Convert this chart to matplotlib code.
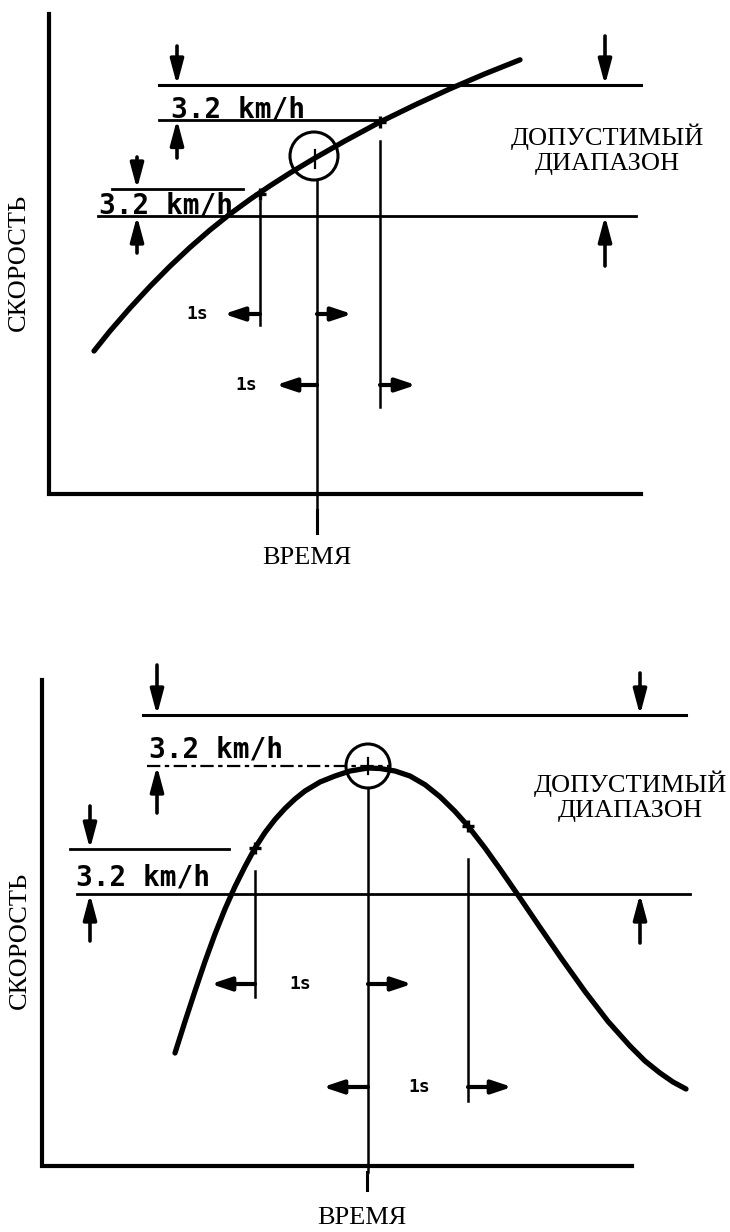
import matplotlib
matplotlib.use("Agg")
import matplotlib.pyplot as plt
from matplotlib.patches import Circle

# ---------------- data (pixel-like diagram units) ----------------
# Top panel: rising speed curve
top_curve_x = [94, 110, 130, 150, 170, 190, 210, 230, 250, 270, 290, 315, 345, 380, 415, 450, 485, 520]
top_curve_y = [351, 331, 308, 286.4, 266.2, 247.4, 230, 214, 199.4, 185.8, 173, 158, 140.9, 122,
               104.9, 88.8, 73.8, 59.8]
# Bottom panel: speed peak curve
bot_curve_x = [175, 185, 195, 205, 215, 225, 235, 245, 255, 265, 275, 285, 295, 305, 320, 335, 350,
               368, 380, 395, 410, 425, 440, 455, 468, 485, 500, 519, 540, 562, 585, 608, 630, 645,
               660, 673, 686]
bot_curve_y = [1053, 1021.5, 991, 961.5, 934, 909, 886.5, 866.5, 848, 832.5, 819.5, 808.5, 799, 791,
               782, 776, 771, 768, 768.5, 771, 776, 784.7, 796.7, 811.4, 826, 848, 869, 896.5,
               927.4, 959.3, 991.5, 1021.4, 1046, 1061, 1073, 1082, 1089]

speed_label = "3.2 km/h"
one_sec = "1s"
ylabel = "СКОРОСТЬ"
xlabel = "ВРЕМЯ"
range_label = "ДОПУСТИМЫЙ\nДИАПАЗОН"

# ---------------- figure ----------------
fig = plt.figure(figsize=(7.30, 12.32), dpi=100)
ax = fig.add_axes([0, 0, 1, 1])
ax.set_xlim(0, 730)
ax.set_ylim(1232, 0)
ax.axis("off")

K = "black"
serif = ["Liberation Serif", "DejaVu Serif"]
mono = ["DejaVu Sans Mono"]


def varrow(x, y_from, y_to):
    ax.annotate("", xy=(x, y_to), xytext=(x, y_from),
                arrowprops=dict(arrowstyle="-|>,head_length=0.75,head_width=0.2",
                                lw=2.6, color=K, shrinkA=0, shrinkB=0,
                                mutation_scale=20))


def harrow(y, x_from, x_to):
    ax.annotate("", xy=(x_to, y), xytext=(x_from, y),
                arrowprops=dict(arrowstyle="-|>,head_length=0.6,head_width=0.2",
                                lw=3.0, color=K, shrinkA=0, shrinkB=0,
                                mutation_scale=20))


# ================= TOP PANEL =================
ax.plot([49, 49, 641], [14, 494, 494], color=K, lw=3.0, solid_joinstyle="miter")
ax.plot([317, 317], [510, 533], color=K, lw=2.2)
ax.text(307, 558, xlabel, fontsize=19, family=serif, ha="center", va="center")
ax.text(19, 262, ylabel, fontsize=19, family=serif, ha="center", va="center", rotation=90)

ax.plot([159, 641], [85, 85], color=K, lw=2.2)
ax.plot([159, 379], [119.5, 119.5], color=K, lw=2.0)
ax.plot([112, 243], [189, 189], color=K, lw=2.0)
ax.plot([98, 636], [216, 216], color=K, lw=2.0)

ax.plot([260, 260], [201, 325], color=K, lw=1.8)
ax.plot([317, 317], [181, 510], color=K, lw=1.8)
ax.plot([380, 380], [141, 407], color=K, lw=1.8)

ax.plot(top_curve_x, top_curve_y, color=K, lw=3.8, solid_capstyle="round",
        solid_joinstyle="round")
ax.plot([260, 380], [193.5, 122], ls="none", marker="+", ms=9, mew=2.4, color=K)
ax.add_patch(Circle((314, 156), 24, fill=False, lw=2.2, color=K))
ax.plot([315, 315], [150, 168], color=K, lw=1.6)

varrow(177, 46, 85)
varrow(177, 158, 119.5)
varrow(605, 36, 85)
varrow(137, 157, 189)
varrow(137, 253, 216)
varrow(605, 266, 216)

harrow(314, 260, 224)
harrow(314, 317, 352)
harrow(385, 317, 276)
harrow(385, 380, 416)
ax.text(197, 314, one_sec, fontsize=13, family=mono, weight="bold", ha="center", va="center")
ax.text(246, 385, one_sec, fontsize=13, family=mono, weight="bold", ha="center", va="center")

ax.text(238, 117, speed_label, fontsize=20, family=mono, weight="bold", ha="center", va="baseline")
ax.text(166, 214, speed_label, fontsize=20, family=mono, weight="bold", ha="center", va="baseline")
ax.text(607, 149, range_label, fontsize=19, family=serif, ha="center", va="center",
        linespacing=1.15)

# ================= BOTTOM PANEL =================
ax.plot([42, 42, 632], [680, 1166, 1166], color=K, lw=3.0, solid_joinstyle="miter")
ax.plot([367, 367], [1172, 1190], color=K, lw=2.2)
ax.text(362, 1218, xlabel, fontsize=19, family=serif, ha="center", va="center")
ax.text(20, 940, ylabel, fontsize=19, family=serif, ha="center", va="center", rotation=90)

ax.plot([143, 686], [715, 715], color=K, lw=2.2)
ax.plot([147, 390], [766, 766], color=K, lw=1.6, ls=(0, (6, 2, 2, 2)))
ax.plot([70, 229], [849, 849], color=K, lw=2.0)
ax.plot([77, 690], [894, 894], color=K, lw=2.0)

ax.plot([255, 255], [871, 997], color=K, lw=1.8)
ax.plot([368, 368], [788, 1172], color=K, lw=1.8)
ax.plot([468, 468], [859, 1101], color=K, lw=1.8)

ax.plot(bot_curve_x, bot_curve_y, color=K, lw=3.8, solid_capstyle="round",
        solid_joinstyle="round")
ax.plot([255, 468], [848, 826], ls="none", marker="+", ms=9, mew=2.4, color=K)
ax.add_patch(Circle((368, 766), 22, fill=False, lw=2.2, color=K))
ax.plot([368, 368], [758, 774], color=K, lw=1.6)

varrow(157, 665, 715)
varrow(157, 813, 766)
varrow(640, 673, 715)
varrow(90, 806, 849)
varrow(90, 941, 894)
varrow(640, 943, 894)

harrow(984, 255, 211)
harrow(984, 368, 412)
harrow(1087, 368, 323)
harrow(1087, 468, 512)
ax.text(300, 984, one_sec, fontsize=13, family=mono, weight="bold", ha="center", va="center")
ax.text(419, 1087, one_sec, fontsize=13, family=mono, weight="bold", ha="center", va="center")

ax.text(216, 757, speed_label, fontsize=20, family=mono, weight="bold", ha="center", va="baseline")
ax.text(143, 886, speed_label, fontsize=20, family=mono, weight="bold", ha="center", va="baseline")
ax.text(630, 796, range_label, fontsize=19, family=serif, ha="center", va="center",
        linespacing=1.15)

fig.savefig("out.png", dpi=100, facecolor="white")
